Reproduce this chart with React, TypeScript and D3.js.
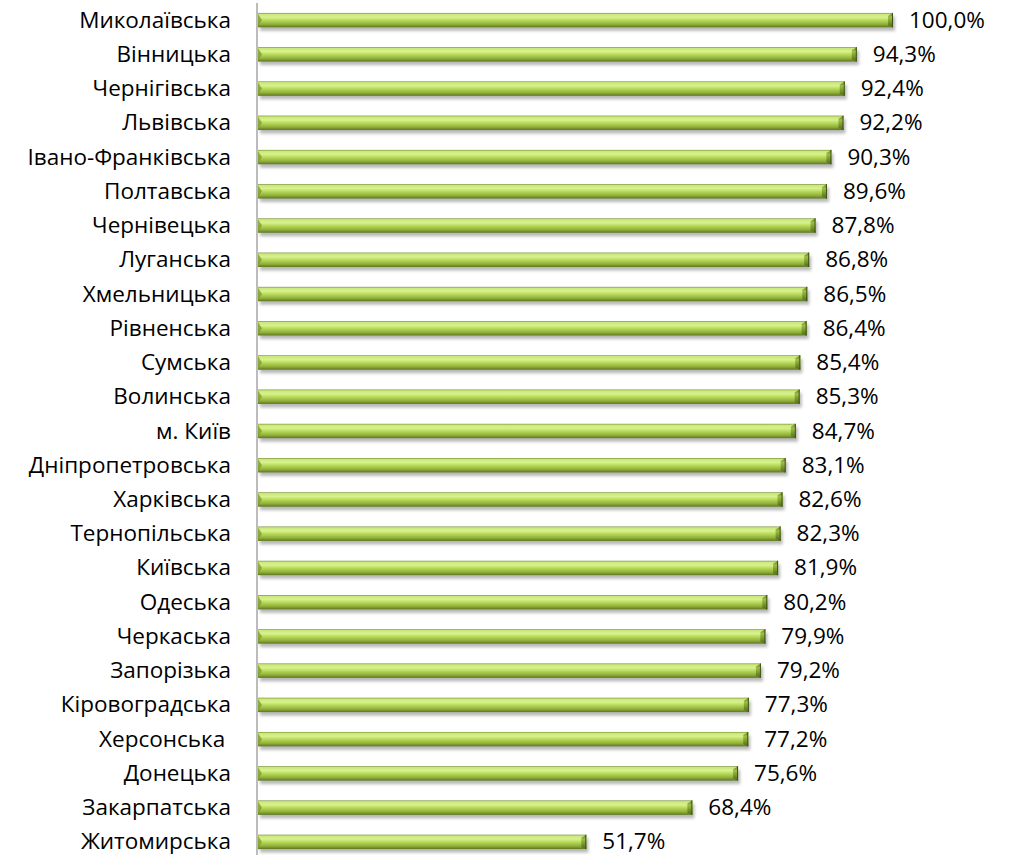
import React from "react";
import * as d3 from "d3";

const categories = [
  "Миколаївська", "Вінницька", "Чернігівська", "Львівська", "Івано-Франківська",
  "Полтавська", "Чернівецька", "Луганська", "Хмельницька", "Рівненська",
  "Сумська", "Волинська", "м. Київ", "Дніпропетровська", "Харківська",
  "Тернопільська", "Київська", "Одеська", "Черкаська", "Запорізька",
  "Кіровоградська", "Херсонська ", "Донецька", "Закарпатська", "Житомирська",
];
const values = [
  100.0, 94.3, 92.4, 92.2, 90.3, 89.6, 87.8, 86.8, 86.5, 86.4,
  85.4, 85.3, 84.7, 83.1, 82.6, 82.3, 81.9, 80.2, 79.9, 79.2,
  77.3, 77.2, 75.6, 68.4, 51.7,
];

const W = 1010;
const H = 855;
const FONT = "'Open Sans', 'Noto Sans', sans-serif";

export default function App() {
  const x = d3.scaleLinear().domain([0, 100]).range([258, 893]);
  const y = d3.scaleBand<string>().domain(categories).range([3, 859]).paddingInner(0.58).paddingOuter(0.29);
  const bh = y.bandwidth();
  const fmt = (v: number) => v.toFixed(1).replace(".", ",") + "%";

  return (
    <svg width={W} height={H} style={{ position: "absolute", left: 0, top: 0, background: "#fff" }}>
      <defs>
        <linearGradient id="barG" x1="0" y1="0" x2="0" y2="1">
          <stop offset="0" stopColor="#6f8a2a" />
          <stop offset="0.08" stopColor="#c9e77a" />
          <stop offset="0.3" stopColor="#d8f28e" />
          <stop offset="0.55" stopColor="#b3d452" />
          <stop offset="0.8" stopColor="#8eae3a" />
          <stop offset="1" stopColor="#5c7620" />
        </linearGradient>
        <linearGradient id="capG" x1="0" y1="0" x2="0" y2="1">
          <stop offset="0" stopColor="#5f7a22" />
          <stop offset="0.3" stopColor="#9fbf45" />
          <stop offset="1" stopColor="#4f6a1a" />
        </linearGradient>
        <filter id="sh" x="-5%" y="-50%" width="110%" height="250%">
          <feGaussianBlur stdDeviation="1.8" />
        </filter>
      </defs>
      {categories.map((c, i) => {
        const y0 = y(c)!;
        const x0 = x(0);
        const x1 = x(values[i]);
        const cap = 5;
        const ty = y0 + bh / 2 - 1;
        return (
          <g key={c}>
            <rect x={x0 + 2} y={y0 + 3.5} width={x1 - x0} height={bh} fill="#8a8a8a" opacity={0.6} filter="url(#sh)" />
            <rect x={x0} y={y0} width={x1 - x0} height={bh} fill="url(#barG)" />
            <polygon points={`${x0},${y0 + 1} ${x0 + 4},${y0 + bh / 2} ${x0},${y0 + bh - 1}`} fill="#7f9d30" opacity={0.8} />
            <polygon
              points={`${x1 - cap},${y0 + 3} ${x1},${y0} ${x1},${y0 + bh} ${x1 - cap},${y0 + bh - 2}`}
              fill="url(#capG)"
            />
            <line x1={x1 - 0.5} x2={x1 - 0.5} y1={y0} y2={y0 + bh} stroke="#3f5514" strokeWidth={1} />
            <text
              x={231}
              y={ty}
              textAnchor="end"
              dominantBaseline="central"
              fontFamily={FONT}
              fontSize={22.5}
              fill="#000"
              style={{ whiteSpace: "pre" }}
            >
              {c}
            </text>
            <text
              x={x1 + 16}
              y={ty}
              dominantBaseline="central"
              fontFamily={FONT}
              fontSize={22.5}
              fill="#000"
            >
              {fmt(values[i])}
            </text>
          </g>
        );
      })}
      <line x1={257} x2={257} y1={3} y2={855} stroke="#a6a6a6" strokeWidth={1.5} />
    </svg>
  );
}
